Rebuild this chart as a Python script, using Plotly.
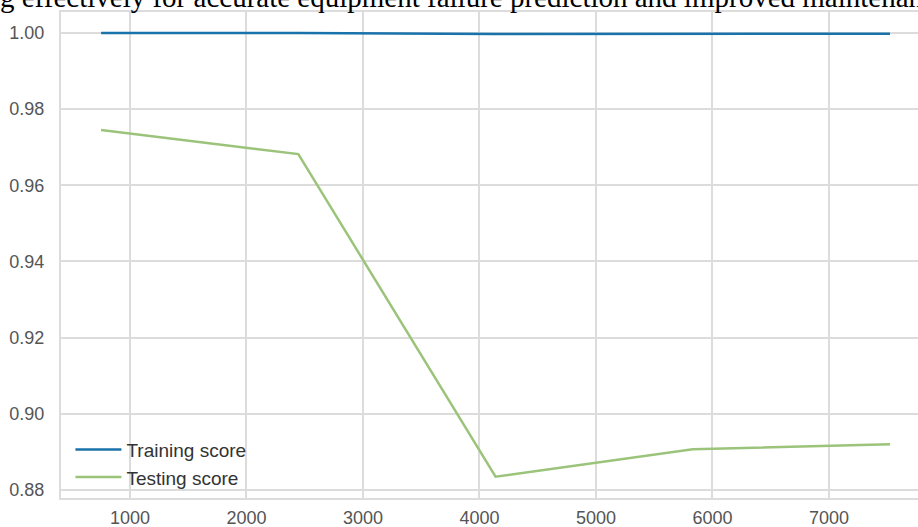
import plotly.graph_objects as go

train_sizes = [752, 2445, 4138, 5831, 7524]
training_score = [1.0, 1.0, 0.9997, 0.9998, 0.9998]
testing_score = [0.9745, 0.9682, 0.8835, 0.8907, 0.8920]
y_ticks = [0.88, 0.90, 0.92, 0.94, 0.96, 0.98, 1.00]
y_tick_labels = ["0.88", "0.90", "0.92", "0.94", "0.96", "0.98", "1.00"]
x_ticks = [1000, 2000, 3000, 4000, 5000, 6000, 7000]
caption = "g effectively for accurate equipment failure prediction and improved maintenance"

fig = go.Figure()
fig.add_trace(go.Scatter(x=train_sizes, y=training_score, mode="lines",
                         name="Training score", line=dict(color="#1a72aa", width=2.5)))
fig.add_trace(go.Scatter(x=train_sizes, y=testing_score, mode="lines",
                         name="Testing score", line=dict(color="#9bc47a", width=2.5)))

grid = "#dcdcdc"
fig.update_layout(
    width=918, height=527,
    margin=dict(l=61, r=0, t=12, b=29, autoexpand=False),
    paper_bgcolor="white", plot_bgcolor="white",
    font=dict(family="Liberation Sans, Arial, sans-serif", size=18, color="#555"),
    xaxis=dict(range=[408, 7764], tickvals=x_ticks, showgrid=True, gridcolor=grid,
               gridwidth=1.5, showline=True, linecolor=grid, linewidth=2, mirror=True,
               zeroline=False, ticks="", ticklen=0, automargin=False,
               ticklabelstandoff=2, tickfont=dict(size=18, color="#555")),
    yaxis=dict(range=[0.8779, 1.0055], tickvals=y_ticks, ticktext=y_tick_labels,
               showgrid=True, gridcolor=grid, gridwidth=1.5, showline=True,
               linecolor=grid, linewidth=2, zeroline=False, ticks="", automargin=False,
               ticklabelstandoff=11, tickfont=dict(size=18, color="#555")),
    legend=dict(x=0.011, y=0.003, xanchor="left", yanchor="bottom",
                bgcolor="rgba(0,0,0,0)", font=dict(size=19, color="#333"),
                tracegroupgap=0, itemwidth=46),
    showlegend=True,
)
fig.add_annotation(text=caption, xref="paper", yref="paper", x=-0.0735, y=1.0,
                   xanchor="left", yanchor="middle", yshift=15.5, showarrow=False,
                   font=dict(family="Liberation Serif, Times New Roman, serif", size=29, color="black"))
fig.write_html("out.html", config={"displayModeBar": False},
               post_script="document.body.style.margin='0px';")
